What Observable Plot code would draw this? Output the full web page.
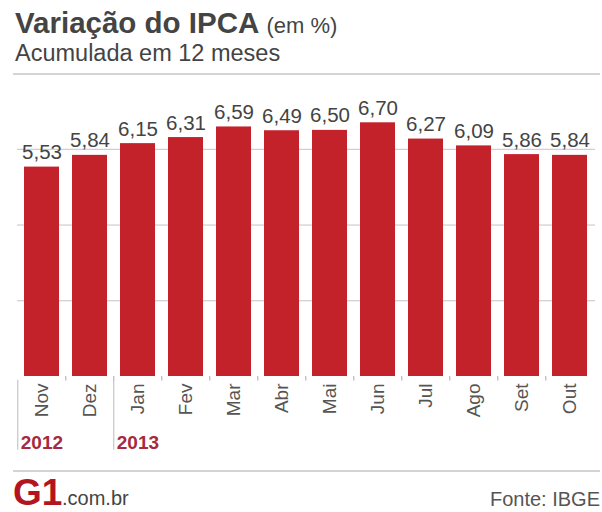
<!DOCTYPE html>
<html><head><meta charset="utf-8">
<script src="https://cdn.jsdelivr.net/npm/d3@7"></script>
<script src="https://cdn.jsdelivr.net/npm/@observablehq/plot@0.6"></script>
<style>
body{margin:0;background:#fff;font-family:"Liberation Sans",Arial,sans-serif;width:602px;height:512px;overflow:hidden;position:relative}
.abs{position:absolute;white-space:nowrap}
#title{left:15px;top:8px;font-size:29.5px;line-height:30px;font-weight:bold;color:#444}
#title span{font-size:22px;font-weight:normal}
#sub{left:15px;top:41px;font-size:23.5px;line-height:24px;color:#444}
#hr1{left:13px;right:2px;top:73px;height:0;border-top:2px solid #d4d4d4}
#chart{left:0;top:76px}
#hr2{left:13px;right:2px;top:470px;height:0;border-top:2px solid #d4d4d4}
#logo{left:13px;top:474px;font-size:37px;line-height:37px;font-weight:bold;color:#b3141d}
#dom{left:62px;top:488px;font-size:20px;line-height:20px;color:#444}
#fonte{right:2px;top:489px;font-size:20px;line-height:20px;color:#555}
</style></head>
<body>
<div id="title" class="abs">Variação do IPCA <span>(em %)</span></div>
<div id="sub" class="abs">Acumulada em 12 meses</div>
<div id="hr1" class="abs"></div>
<div id="chart" class="abs"></div>
<div id="hr2" class="abs"></div>
<div id="logo" class="abs">G1</div>
<div id="dom" class="abs">.com.br</div>
<div id="fonte" class="abs">Fonte: IBGE</div>
<script>
const months = ["Nov","Dez","Jan","Fev","Mar","Abr","Mai","Jun","Jul","Ago","Set","Out"];
const values = [5.53,5.84,6.15,6.31,6.59,6.49,6.50,6.70,6.27,6.09,5.86,5.84];
const years = ["2012","2013"];
const yearStarts = ["Nov","Jan"];
const gridTicks = [2,4,6];

const data = months.map((m,i)=>({month:m, value:values[i]}));
const yearData = years.map((y,i)=>({year:y, month:yearStarts[i]}));

const W = 602, ML = 17, MR = 7, PI = 0.267, PO = 0.1;
const step = (W - ML - MR) / (months.length - PI + 2*PO);
const fmt = v => d3.format(".2f")(v).replace(".", ",");

const chart = Plot.plot({
  width: W, height: 392,
  marginLeft: ML, marginRight: MR, marginTop: 16, marginBottom: 92,
  style: {fontFamily: '"Liberation Sans", Arial, sans-serif', background: "transparent"},
  x: {domain: months, paddingInner: PI, paddingOuter: PO, axis: null},
  y: {domain: [0, 7.5], axis: null},
  marks: [
    Plot.ruleY(gridTicks, {stroke: "#c4c4c4", strokeWidth: 1}),
    Plot.barY(data, {x: "month", y: "value", fill: "#c4222b"}),
    Plot.text(data, {x: "month", y: "value", text: d => fmt(d.value), dy: -8, lineAnchor: "bottom", fontSize: 20.5, fill: "#444"}),
    Plot.ruleX(months.slice(1), {x: d => d, dx: -step/2, y1: 0, y2: -0.12, stroke: "#aaa"}),
    Plot.ruleX(yearStarts, {x: d => d, dx: -step/2, y1: -0.1, y2: -1.95, stroke: "#bbb"}),
    Plot.text(months, {x: d => d, y: 0, dy: 7, rotate: -90, textAnchor: "end", fontSize: 19, fill: "#555"}),
    Plot.text(yearData, {x: "month", y: 0, text: "year", dx: -step/2 + 3, dy: 72, textAnchor: "start", lineAnchor: "bottom", fontSize: 19, fontWeight: "bold", fill: "#a8283c"})
  ]
});
document.getElementById("chart").appendChild(chart);
</script>
</body></html>
